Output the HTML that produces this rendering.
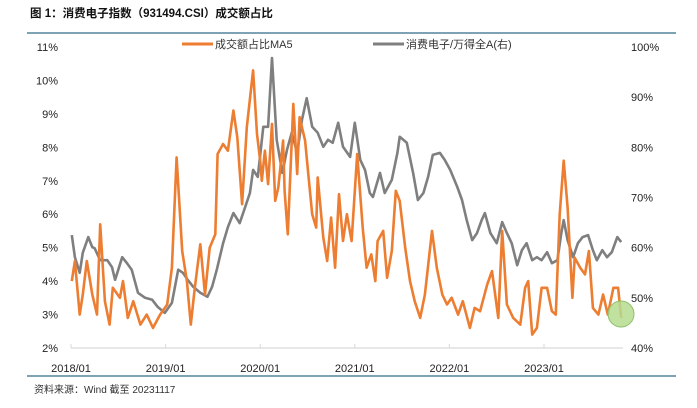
<!DOCTYPE html>
<html><head><meta charset="utf-8"><style>
body{margin:0;background:#fff;}
svg text{font-family:"Liberation Sans","Noto Sans CJK SC",sans-serif;}
</style></head><body>
<svg id="chart" width="697" height="403" xmlns="http://www.w3.org/2000/svg">
<text x="30" y="17" font-size="11.5" font-weight="bold" fill="#111">图 1：消费电子指数（931494.CSI）成交额占比</text>
<line x1="27" y1="33" x2="676" y2="33" stroke="#2d6a86" stroke-width="1.2"/>
<line x1="27" y1="376" x2="676" y2="376" stroke="#2d6a86" stroke-width="1.2"/>
<text x="34" y="393" font-size="10" fill="#333">资料来源：Wind  截至 20231117</text>
<g>
<line x1="182" y1="44" x2="213" y2="44" stroke="#ed7d31" stroke-width="3"/>
<text x="215" y="48" font-size="11" fill="#333">成交额占比MA5</text>
<line x1="373" y1="44" x2="404" y2="44" stroke="#7f7f7f" stroke-width="3"/>
<text x="406" y="48" font-size="11" fill="#333">消费电子/万得全A(右)</text>
</g>
<g id="axes"></g>
<g id="series"></g>
<circle cx="621" cy="314" r="13" fill="#b5dc8f" fill-opacity="0.85" stroke="#8fbf6a" stroke-width="1"/>
</svg>
<script>
const xTickLabels=["2018/01","2019/01","2020/01","2021/01","2022/01","2023/01"];
const leftTicks=[2,3,4,5,6,7,8,9,10,11];
const rightTicks=[40,50,60,70,80,90,100];
const orangeMonths=[0.1,0.5,1.1,1.5,2.0,2.7,3.3,3.7,4.3,4.9,5.3,6.2,6.6,7.2,7.9,8.8,9.6,10.4,11.3,12.2,12.8,13.4,14.1,14.7,15.2,15.7,16.4,17.0,17.6,18.3,18.6,19.3,19.9,20.6,21.1,21.7,22.3,23.1,23.6,24.0,24.2,24.6,25.0,25.5,25.9,26.3,26.9,27.1,27.5,28.2,28.7,29.0,29.7,30.1,30.6,31.1,31.3,32.0,32.5,33.0,33.5,34.0,34.5,35.0,35.6,36.3,37.0,37.5,38.1,38.6,38.9,39.6,40.1,40.7,41.2,41.7,42.4,43.0,43.6,44.3,44.9,45.8,46.4,47.1,47.7,48.3,49.1,49.7,50.6,51.2,51.9,52.8,53.4,54.2,54.7,55.3,56.1,57.0,57.6,58.0,58.5,59.1,59.7,60.4,61.0,61.5,62.0,62.5,63.0,63.6,63.9,64.6,65.2,65.7,66.2,66.9,67.5,68.1,68.8,69.4,69.8];
const orangeValues=[4.0,4.6,3.0,3.6,4.6,3.6,3.0,5.7,3.4,2.7,3.8,3.5,4.0,2.9,3.4,2.7,3.0,2.6,3.0,3.3,4.4,7.7,4.9,4.0,2.7,3.8,5.1,3.6,5.0,5.4,7.8,8.1,7.9,9.1,8.3,6.3,8.6,10.3,8.4,7.6,7.0,7.9,6.9,8.7,6.4,6.8,8.2,6.7,5.4,9.3,7.2,8.9,8.2,7.2,6.0,5.6,7.1,5.3,4.6,5.9,4.4,6.6,5.2,6.0,5.2,7.8,5.6,4.4,4.8,4.0,5.2,5.5,4.1,4.9,6.7,6.4,5.0,4.0,3.4,2.9,3.6,5.5,4.4,3.6,3.3,3.5,3.0,3.4,2.6,3.2,3.1,3.9,4.3,2.9,5.5,3.3,2.9,2.7,3.8,4.0,2.4,2.6,3.8,3.8,3.1,3.0,6.0,7.6,6.2,3.5,4.7,4.4,4.2,4.9,3.2,3.0,3.6,3.0,3.8,3.8,2.9];
const grayMonths=[0.1,0.5,1.1,1.5,2.2,2.7,3.0,3.7,4.6,5.2,5.6,6.5,7.1,7.7,8.5,9.4,10.3,11.0,11.9,12.8,13.6,14.2,14.8,15.5,16.4,17.3,17.9,18.5,19.3,19.9,20.6,21.4,22.1,22.7,23.1,23.7,24.4,25.0,25.5,26.1,26.8,27.4,28.0,28.7,29.3,29.9,30.6,31.3,32.0,32.6,33.2,33.9,34.5,35.4,36.0,36.7,37.3,37.9,38.3,39.2,39.8,40.7,41.4,41.7,42.6,43.4,44.0,44.7,45.3,45.9,46.8,47.4,48.1,49.0,49.6,50.2,50.9,51.5,52.1,52.5,53.2,54.0,54.7,55.3,55.9,56.6,57.2,57.8,58.5,59.1,59.7,60.4,61.0,61.7,62.2,62.5,63.0,63.7,64.3,64.9,65.6,66.2,66.7,67.4,68.0,68.6,69.3,69.8];
const grayValues=[62.5,58.1,55.0,59.0,62.1,60.1,59.9,57.5,57.5,56.1,53.6,58.1,56.9,55.6,51.0,50.0,49.6,48.2,47.0,49.0,55.6,55.0,53.6,52.2,51.0,50.2,52.2,55.6,60.9,64.1,66.9,64.9,68.1,70.9,75.5,74.1,84.1,84.1,97.8,81.5,74.9,79.5,82.9,78.9,85.5,89.8,84.1,82.9,80.1,81.5,80.9,84.9,80.1,78.1,84.9,77.5,75.5,70.9,70.1,74.9,70.9,73.5,78.9,82.1,80.9,74.9,69.5,70.9,74.1,78.5,78.9,77.5,75.5,72.1,69.5,65.5,61.5,62.9,65.5,66.9,62.9,60.9,65.1,62.9,60.9,56.5,59.5,60.9,57.5,58.1,57.5,59.1,56.9,57.5,62.9,65.5,61.5,58.1,60.9,62.1,62.5,59.5,57.5,59.5,58.1,59.1,62.1,61.1];

const NS="http://www.w3.org/2000/svg";
const X0=71,MW=7.883,YB=348,YT=47;
const xS=m=>X0+m*MW;
const yL=v=>YB-(v-2)/9*(YB-YT);
const yR=v=>YB-(v-40)/60*(YB-YT);
const axes=document.getElementById('axes'),ser=document.getElementById('series');
function mk(tag,attrs,parent){const e=document.createElementNS(NS,tag);for(const k in attrs)e.setAttribute(k,attrs[k]);parent.appendChild(e);return e;}
const ax=mk('line',{x1:X0,y1:YB,x2:623,y2:YB,stroke:'#d9d9d9','stroke-width':1.2},axes);


xTickLabels.forEach((t,i)=>{
  const x=xS(i*12);
  const tk=mk('line',{x1:x,y1:YB,x2:x,y2:YB-4,stroke:'#d9d9d9'},axes);
  
  
  const tx=mk('text',{x:x,y:372,'font-size':11,'text-anchor':'middle',fill:'#222'},axes);
  
  
  tx.textContent=t;
});
leftTicks.forEach(v=>{
  const tx=mk('text',{x:58,y:yL(v)+4,'font-size':11,'text-anchor':'end',fill:'#222'},axes);
  
  
  tx.textContent=v+'%';
});
rightTicks.forEach(v=>{
  const tx=mk('text',{x:631,y:yR(v)+4,'font-size':11,'text-anchor':'start',fill:'#222'},axes);
  
  
  tx.textContent=v+'%';
});
function line(ms,vs,sc,color,name){
  const d=ms.map((m,i)=>(i?'L':'M')+xS(m).toFixed(1)+','+sc(vs[i]).toFixed(1)).join('');
  const p=mk('path',{d:d,fill:'none',stroke:color,'stroke-width':2.6,'stroke-linejoin':'round'},ser);
  
  
}
line(grayMonths,grayValues,yR,'#7f7f7f','gray-series-line');
line(orangeMonths,orangeValues,yL,'#ed7d31','orange-series-line');
</script>
</body></html>
